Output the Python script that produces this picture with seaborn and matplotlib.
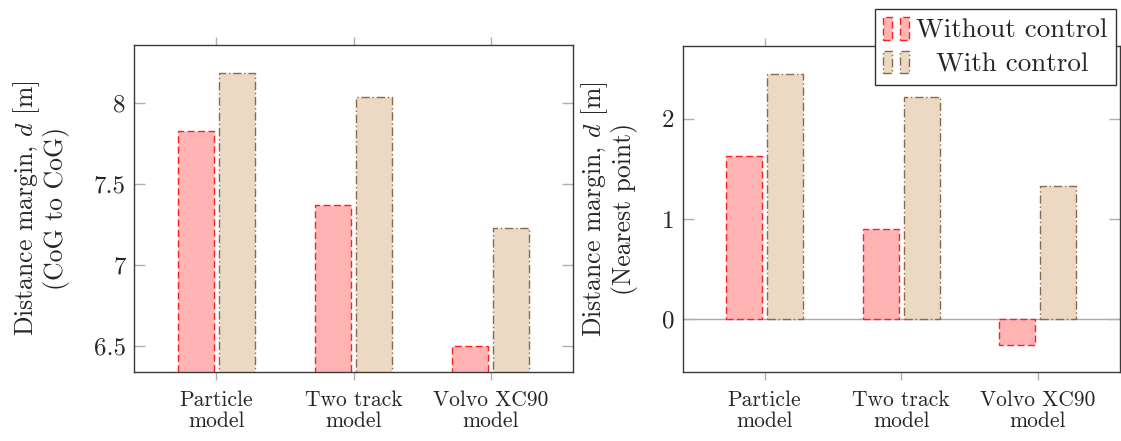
import matplotlib.pyplot as plt
import seaborn as sns
import pandas as pd
from matplotlib.patches import Patch
from matplotlib.legend_handler import HandlerTuple
from matplotlib.ticker import FuncFormatter

models = ["Particle\nmodel", "Two track\nmodel", "Volvo XC90\nmodel"]
groups = ["Without control", "With control"]
cog_without = [7.83, 7.37, 6.50]
cog_with = [8.19, 8.04, 7.23]
near_without = [1.63, 0.90, -0.26]
near_with = [2.45, 2.22, 1.33]

fills = ["#FFB3B3", "#EBD9C4"]
edges = ["#FF2020", "#8C6A48"]
dashes = [(0, (5, 2.5)), (0, (6, 2, 1, 2))]

sns.set_theme(style="white")
plt.rcParams["font.family"] = ["cmr10", "DejaVu Serif"]
plt.rcParams["mathtext.fontset"] = "cm"
plt.rcParams["axes.formatter.use_mathtext"] = True


def long_df(a, b):
    return pd.DataFrame({
        "model": models * 2,
        "group": [groups[0]] * 3 + [groups[1]] * 3,
        "value": a + b,
    })


def draw(ax, df, ylim, yticks, ylabel, label_x):
    sns.barplot(data=df, x="model", y="value", hue="group", hue_order=groups,
                palette=fills, width=0.6, gap=0.12, saturation=1,
                legend=False, ax=ax)
    for cont, ec, ls in zip(ax.containers, edges, dashes):
        for bar in cont:
            bar.set_edgecolor(ec)
            bar.set_linestyle(ls)
            bar.set_linewidth(1.0)
    ax.set_xlim(-0.6, 2.6)
    ax.set_ylim(*ylim)
    ax.set_yticks(yticks)
    ax.yaxis.set_major_formatter(FuncFormatter(lambda v, p: f"{v:g}"))
    ax.set_xlabel("")
    ax.set_ylabel(ylabel, fontsize=18.5, linespacing=1.05)
    ax.yaxis.set_label_coords(label_x, 0.5)
    ax.tick_params(axis="y", direction="in", length=8, width=1, color="#b0b0b0",
                   left=True, right=True, labelsize=18, pad=6)
    ax.tick_params(axis="x", direction="out", length=6, width=1, color="#b0b0b0",
                   bottom=True, top=True, labelsize=15.5, pad=7)
    for lab in ax.get_xticklabels():
        lab.set_linespacing(1.15)
    for s in ax.spines.values():
        s.set_color("#3a3a3a")
        s.set_linewidth(1.0)


fig = plt.figure(figsize=(11.21, 4.41), dpi=100)
ax1 = fig.add_axes([134 / 1121, 1 - 372 / 441, 439 / 1121, 327 / 441])
ax2 = fig.add_axes([682.7 / 1121, 1 - 372 / 441, 437 / 1121, 326 / 441])

draw(ax1, long_df(cog_without, cog_with), (6.34, 8.36), [6.5, 7, 7.5, 8],
     "Distance margin, $d$ [m]\n(CoG to CoG)", -0.146)
draw(ax2, long_df(near_without, near_with), (-0.527, 2.726), [0, 1, 2],
     "Distance margin, $d$ [m]\n(Nearest point)", -0.102)
ax2.axhline(0, color="#a8a8a8", lw=1, zorder=0.5)

handles = []
for fc, ec, ls in zip(fills, edges, dashes):
    p = Patch(facecolor=fc, edgecolor=ec, linestyle=ls, linewidth=1.0)
    handles.append((p, p))
leg = fig.legend(handles, groups, loc="upper right",
                 bbox_to_anchor=(1116 / 1121, 1 - 9 / 441),
                 handler_map={tuple: HandlerTuple(ndivide=None, pad=0.3)},
                 fontsize=19.5, frameon=True, fancybox=False, framealpha=1,
                 edgecolor="#333333", borderaxespad=0, handlelength=0.95,
                 handleheight=0.9, handletextpad=0.28, borderpad=0.3,
                 labelspacing=0.3)
# pgfplots centres the legend text; shift the shorter entry to match
leg.get_texts()[1].set_x(19.5)

fig.savefig("out.png", dpi=100)
